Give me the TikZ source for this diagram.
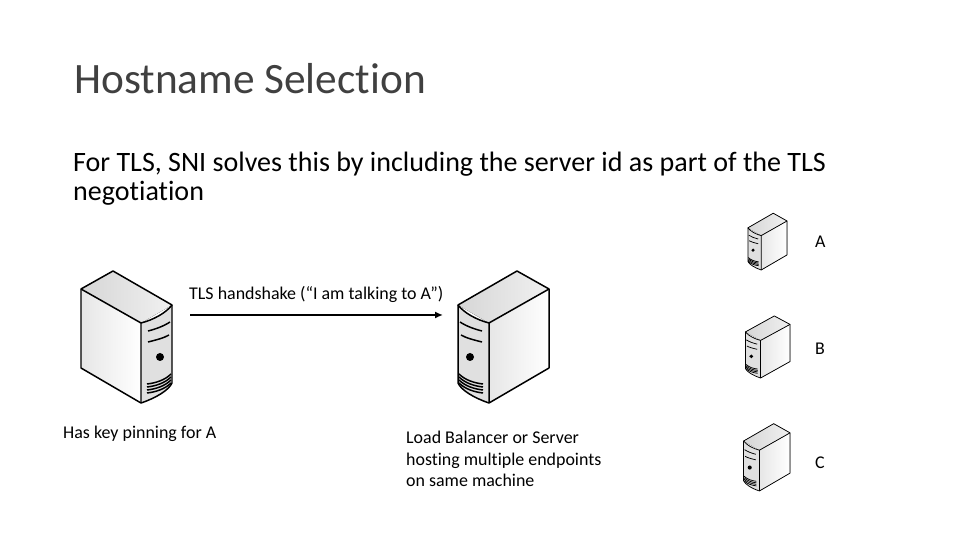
\documentclass[tikz,border=0pt]{standalone}
\usepackage{fontspec}
\setmainfont{Carlito}[Ligatures=NoCommon]
\usetikzlibrary{arrows.meta}
\definecolor{titlegray}{RGB}{64,64,64}
\definecolor{sidegray}{RGB}{214,214,214}
\tikzset{
  pics/server/.style={code={
    % body
    \fill[left color=sidegray!60,right color=white] (0,114) -- (60,80) -- (60,0) -- (0,35) -- cycle;
    \fill[left color=sidegray,right color=sidegray!35] (0,114) -- (32,132) -- (91,98) -- (60,80) -- cycle;
    \fill[sidegray!75] (60,80) .. controls (72,83) and (85,90) .. (91,98) -- (91,20) .. controls (88,13) and (75,5) .. (60,0) -- cycle;
    \draw[servline=#1] (0,114) -- (32,132) -- (91,98) -- (91,20) .. controls (88,13) and (75,5) .. (60,0) -- (0,35) -- cycle;
    \draw[servline=#1] (0,114) -- (60,80) -- (60,0);
    \draw[servline=#1] (60,80) .. controls (72,83) and (85,90) .. (91,98);
    % panel
    \draw[servline=#1] (67,72) .. controls (75,74) and (83,77) .. (89,81);
    \draw[servline=#1] (67,61) .. controls (75,63) and (83,65) .. (88,68);
    \fill (79,46) circle (4);
    \foreach \k in {0,1,2,3}
      \draw[servline=#1] (66,10+3*\k) .. controls (75,11+3*\k) and (84,14+3*\k) .. (90,20+3*\k);
  }},
  servline/.style={draw=black,line width=#1,line join=round},
  slidetext/.style={inner sep=0pt,anchor=base west,align=left},
  smalltext/.style={slidetext,font=\fontsize{18}{21.7}\selectfont},
  bodytext/.style={slidetext,font=\fontsize{28.15}{30}\selectfont}
}

\begin{document}
\begin{tikzpicture}[x=1bp,y=1bp]
\useasboundingbox (0,0) rectangle (960,540);
\fill[white] (0,0) rectangle (960,540);

\node[slidetext,text=titlegray,font=\fontsize{43.5}{44}\selectfont] (title) at (74,446) {Hostname Selection};
\node[bodytext] (bodyone) at (73,368) {For TLS, SNI solves this by including the server id as part of the TLS};
\node[bodytext] (bodytwo) at (73,339) {negotiation};

\pic at (81,137) {server=1.5pt};
\pic[xscale=-1] at (549,137) {server=1.5pt};
\pic[xscale=-0.43,yscale=0.43] at (787,270) {server=0.75pt};
\pic[xscale=-0.49,yscale=0.47] at (790,162) {server=0.75pt};
\pic[xscale=-0.51,yscale=0.51] at (790,49) {server=0.75pt};

\coordinate (hsstart) at (190,225);
\coordinate (hsend) at (443,225);
\draw[-{Latex[length=8pt,width=7pt]},line width=2.4pt] (hsstart) -- (hsend);

\node[smalltext] (handshake) at (189,240) {TLS handshake (“I am talking to A”)};
\node[smalltext] (pinning) at (63,101) {Has key pinning for A};
\node[smalltext] (balancer) at (406,53) {Load Balancer or Server\\hosting multiple endpoints\\on same machine};
\node[smalltext] (labela) at (815,292) {A};
\node[smalltext] (labelb) at (815,185) {B};
\node[smalltext] (labelc) at (815,71) {C};
\end{tikzpicture}
\end{document}
